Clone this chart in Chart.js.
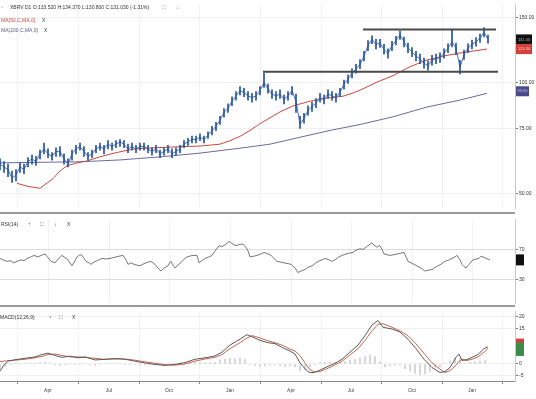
<!DOCTYPE html>
<html>
<head>
<meta charset="utf-8">
<script src="https://cdn.jsdelivr.net/npm/chart.js@4.4.1/dist/chart.umd.min.js"></script>
<style>
  html,body{margin:0;padding:0;background:#fff;}
  body{width:536px;height:399px;position:relative;overflow:hidden;font-family:"Liberation Sans",Arial,sans-serif;}
  canvas{position:absolute;left:0;}
  .lbl{position:absolute;font-size:5px;line-height:6px;color:#333;white-space:nowrap;z-index:2;}
  .sep{position:absolute;left:0;width:515px;height:2px;background:#9a9a9a;z-index:2;}
</style>
</head>
<body>
<canvas id="priceChart" width="536" height="212" style="top:0"></canvas>
<canvas id="rsiChart" width="536" height="92" style="top:215px"></canvas>
<canvas id="macdChart" width="536" height="92" style="top:307px"></canvas>
<div class="sep" style="top:212px"></div>
<div class="sep" style="top:305px"></div>

<div class="lbl" style="left:1px;top:4px;color:#888">▫</div>
<div class="lbl" style="left:10px;top:4px">XBRV D1 O:133.520 H:134.370 L:130.800 C:131.030 (-1.31%)</div>
<div class="lbl" style="left:162px;top:4px;color:#666">⛶</div>
<div class="lbl" style="left:176px;top:4px;color:#666">↓</div>
<div class="lbl" style="left:1px;top:17px;color:#c9483e">MA(50,C,MA,0)</div>
<div class="lbl" style="left:42px;top:17px">X</div>
<div class="lbl" style="left:1px;top:27px;color:#5c5c8c">MA(200,C,MA,0)</div>
<div class="lbl" style="left:44px;top:27px">X</div>

<div class="lbl" style="left:1px;top:221px">RSI(14)</div>
<div class="lbl" style="left:28px;top:221px">↑</div>
<div class="lbl" style="left:40px;top:221px">⛶</div>
<div class="lbl" style="left:54px;top:221px">↓</div>
<div class="lbl" style="left:67px;top:221px">X</div>

<div class="lbl" style="left:0px;top:314px">MACD(12,26,9)</div>
<div class="lbl" style="left:49px;top:314px">↑</div>
<div class="lbl" style="left:59px;top:314px">⛶</div>
<div class="lbl" style="left:72px;top:314px">X</div>

<script>
/* ---- data (x in trading days) ---- */
const X_MAX = 515;
const tickDays = [48, 109, 169, 230, 291, 351, 412, 472];
const tickLabels = ['Apr', 'Jul', 'Oct', 'Jan', 'Apr', 'Jul', 'Oct', 'Jan'];

const priceStep = 4;
const priceClose = [60,59,58,55,56,59,58,61,62,61,64,66,64,63,65,65,62,60,64,66,
  67,65,63,64,66,67,66,68,67,68,69,68,66,67,66,67,67,66,65,66,
  64,65,66,64,65,66,68,69,70,70,71,70,72,74,76,79,83,85,89,92,
  95,94,92,91,92,95,100,96,93,92,93,90,92,95,89,77,80,84,86,88,
  91,90,93,92,91,94,99,102,106,109,112,118,126,131,127,128,123,120,126,130,
  135,129,124,121,118,116,113,111,115,116,117,120,124,129,124,110,119,124,127,129,
  132,137,131];
const priceHigh = [62,61,60,57.5,58,60.5,60,62.5,63.5,63,65.5,68.5,66,64.5,66.5,67,64,62,65.5,67.5,
  68.5,67,64.5,65.5,67.5,68.5,67.5,69.5,68.5,69.5,70,69.5,68,68.5,67.5,68.5,68.5,67.5,66.5,67.5,
  65.5,66.5,67.5,66,66.5,67.5,69.5,70.5,71.5,71.5,72.5,71.5,73.5,76,78,81,85,87.5,91.5,94.5,
  97.5,96.5,94.5,93.5,94.5,97.5,106,99,95.5,94.5,95.5,92.5,94.5,97.5,93,81,82.5,86.5,88.5,90.5,
  93.5,92.5,95.5,94.5,93.5,96.5,101.5,105,109,112,115.5,121.5,130,134,131,131,127,123.5,129.5,133.5,
  138,133,128,124.5,121.5,119.5,116.5,114.5,118.5,119.5,120.5,123.5,127.5,139,128,115,122.5,127.5,130.5,132.5,
  135.5,141,134.5];
const priceLow = [58,57,55.5,53.5,54,57,56.5,59,60,59.5,62,64,62.5,61.5,63,63,60,59,61.5,64,
  65.5,63,61.5,62.5,64.5,65.5,64,66,65.5,66.5,67,66.5,64.5,65.5,64.5,65.5,65.5,64.5,63.5,64.5,
  62.5,63.5,64.5,62.5,63.5,64.5,66.5,67.5,68.5,68.5,69.5,68.5,70.5,72,74,77,80.5,83,86.5,89.5,
  92.5,91.5,89.5,88.5,89.5,92.5,97,93.5,90.5,89.5,90.5,87.5,89.5,92.5,83,75,77.5,81.5,83.5,85.5,
  88.5,87.5,90.5,89.5,88.5,91.5,96,99.5,103,106,109,114.5,122,127.5,123.5,124.5,119.5,116.5,122,126.5,
  131,125,120.5,117.5,114.5,112.5,109.5,108,111.5,112.5,113.5,116.5,120.5,125,119,105.5,115.5,120.5,123.5,125.5,
  128.5,133,128];

const ma50Days = [17,28,40,53,60,67,77,87,98,110,122,133,150,167,185,200,210,220,230,240,
  250,260,270,280,293,310,327,343,352,360,376,393,410,427,444,460,475,487];
const ma50Values = [53.2,52.2,51.6,54.8,57.5,59.4,60.5,61.2,62.6,63.9,65.0,65.9,66.4,66.7,67.0,67.2,67.6,68.0,69.5,71.4,
  74.1,77.3,80.2,83.2,86.4,89.0,90.7,91.8,93.5,95.3,100,104.4,110.4,115.2,118.1,120.3,122,123.3];

const ma200Days = [0,40,80,120,160,200,240,270,300,330,360,393,427,460,487];
const ma200Values = [60.5,60.7,60.9,61.6,62.8,64.3,66.3,68.0,71.0,74.1,76.9,80.7,85.8,89.6,93.5];

const levelValues = [139.4, 107];
const levelFrom = [363, 263];
const levelTo = [496, 498];
const priceTicks = [50, 75, 100, 150];

const rsiDays = [0,3,7,10,14,17,21,24,27,31,34,38,41,45,48,51,55,58,62,65,
  68,70,72,75,77,80,82,84,86,89,91,94,96,100,103,106,110,113,116,119,
  123,126,128,131,134,137,140,144,148,151,155,158,161,164,168,170,171,173,175,178,
  182,185,187,190,192,195,197,199,202,205,209,212,215,219,222,226,229,232,236,240,
  243,246,248,250,254,257,261,264,268,271,274,277,281,284,288,291,295,298,301,305,
  308,312,315,318,322,325,329,332,336,339,342,346,349,353,356,360,363,366,369,372,
  374,377,379,380,382,384,387,390,394,397,401,404,406,408,411,414,418,421,423,425,
  428,432,435,438,442,445,449,452,455,457,460,462,464,466,469,473,476,479,481,483,
  486,490];
const rsiValues = [58,56,54,55,52,54,56,55,58,60,62,60,62,64,59,54,52,57,62,59,
  56,52,48,55,60,63,62,58,54,52,50,53,54,57,58,57,58,59,60,61,
  62,56,50,52,50,49,48,51,53,54,50,45,41,45,48,53,54,49,45,49,
  54,58,60,61,62,62,62,52,55,58,60,62,68,75,74,77,81,78,75,77,
  77,73,68,60,61,62,64,66,64,62,58,54,53,52,51,50,45,39,41,43,
  46,48,51,54,56,58,56,54,57,60,62,64,65,66,69,71,70,73,76,79,
  76,73,75,75,70,64,63,62,63,64,65,66,60,54,52,50,47,45,43,41,
  42,43,46,48,51,54,56,58,60,62,56,50,47,45,50,56,57,58,61,60,
  58,56];
const rsiTicks = [70, 30];

const macdDays = [0,4,8,15,25,35,42,48,55,62,70,78,85,95,103,115,125,135,145,155,
  165,175,185,195,205,215,222,230,240,247,252,260,268,275,283,290,295,300,305,309,
  314,320,328,336,342,350,358,365,372,378,383,392,400,408,416,424,432,440,445,450,
  456,459,462,467,472,478,484,488];
const macdValues = [-3.0,-0.5,1.2,1.8,2.4,3.0,4.0,4.6,3.6,2.8,3.3,2.6,3.0,1.7,1.9,2.3,2.0,1.2,0.4,-0.2,
  -0.6,-0.2,0.6,2.0,2.6,3.4,5.0,8.0,10.5,12.4,11.5,10.0,9.0,8.6,6.8,5.5,4.2,0.5,-2.0,-3.5,
  -3.6,-2.6,-1.0,0.5,2.0,5.0,8.0,12.0,16.5,18.4,15.5,14.8,13.5,10.5,6.5,2.0,-1.5,-3.6,-3.2,-1.5,
  2.8,4.2,1.5,1.8,2.8,4.0,6.5,7.2];
const signalValues = [1.0,1.2,1.4,1.6,2.0,2.6,3.2,4.0,4.2,3.6,3.0,3.0,2.8,2.4,2.0,2.1,2.1,1.6,0.9,0.3,
  -0.3,-0.5,0.0,1.2,2.1,2.8,4.0,6.5,9.0,11.0,12.0,11.0,9.8,9.0,7.8,6.3,5.5,3.5,0.5,-2.0,
  -3.4,-3.2,-1.8,-0.2,1.2,3.8,6.5,10.0,14.0,16.8,17.0,15.5,14.0,12.0,8.5,4.5,0.5,-2.2,-3.6,-2.8,
  -0.5,1.0,2.0,1.5,2.0,3.0,5.0,6.5];
const histStep = 5;
const histValues = [-2.0,-1.0,-0.2,0.2,0.3,0.4,0.4,0.4,0.6,0.7,0.5,-0.4,-0.6,-0.3,0.2,-0.3,-0.2,0.2,-0.4,-0.6,
  -0.2,0.0,0.2,0.2,0.1,-0.1,-0.3,-0.4,-0.5,-0.5,-0.4,-0.4,-0.3,-0.3,0.1,0.3,0.5,0.6,0.8,0.8,
  0.6,0.5,0.6,0.7,1.6,2.0,2.4,2.2,2.5,2.0,-0.4,-0.8,-1.0,-0.8,-0.5,-0.4,-0.8,-1.0,-0.8,-1.2,
  -2.8,-2.5,-1.4,-0.2,0.6,0.8,0.9,0.8,0.8,1.0,1.5,2.0,2.6,3.2,3.8,3.2,1.0,-1.2,-0.8,-0.6,
  -0.5,-2.0,-3.0,-4.0,-4.6,-4.2,-3.2,-1.8,-1.4,0.4,1.3,2.6,2.4,0.2,0.7,0.9,1.2,1.4];
const macdTicks = [20, 15, 0, -5];

/* ---- shared axis helpers ---- */
const FONT = '"Liberation Sans", Arial, sans-serif';
const pts = (xs, ys) => xs.map((x, i) => ({ x, y: ys[i] }));
const last = arr => arr[arr.length - 1];

function xAxis(showLabels){
  return {
    type: 'linear', min: 0, max: X_MAX, offset: false,
    afterBuildTicks: s => { s.ticks = tickDays.map(v => ({ value: v })); },
    afterFit: s => { s.height = showLabels ? 18 : 0; },
    grid: { color: '#f1f1f1', drawTicks: showLabels, tickLength: 3, tickColor: '#888' },
    border: { display: showLabels, color: '#8a8a8a' },
    ticks: { display: showLabels, padding: 4, autoSkip: false, maxRotation: 0, color: '#444',
      font: { size: 5, family: FONT },
      callback: v => tickLabels[tickDays.indexOf(v)] ?? '' }
  };
}
function yAxis(type, min, max, ticks, fmt, gridColor){
  return {
    type, position: 'right', min, max,
    afterBuildTicks: s => { s.ticks = ticks.map(v => ({ value: v })); },
    afterFit: s => { s.width = 21; },
    grid: { color: gridColor, tickLength: 3, tickColor: '#777' },
    border: { color: '#c8c8c8' },
    ticks: { padding: 1, color: '#333', font: { size: 5, family: FONT }, callback: fmt }
  };
}
// coloured last-value boxes on the right axis
function tagPlugin(tags){
  return {
    id: 'tags',
    afterDraw(chart){
      const ctx = chart.ctx, a = chart.chartArea;
      tags.forEach(t => {
        const y = chart.scales.y.getPixelForValue(t.value) + (t.shift || 0);
        ctx.fillStyle = t.bg;
        ctx.fillRect(a.right + 1, y - t.h / 2, t.w, t.h);
        if (t.fg){
          ctx.fillStyle = t.fg; ctx.font = '4px ' + FONT;
          ctx.textAlign = 'center'; ctx.textBaseline = 'middle';
          ctx.fillText(t.value.toFixed(2), a.right + 1 + t.w / 2, y);
        }
      });
    }
  };
}
function baseOptions(padding, scales){
  return {
    responsive: false, animation: false, devicePixelRatio: 1,
    layout: { padding },
    plugins: { legend: { display: false }, tooltip: { enabled: false } },
    elements: { point: { radius: 0 }, line: { tension: 0 } },
    scales
  };
}

/* ---- price panel ---- */
const priceDays = priceClose.map((_, i) => i * priceStep);
new Chart(document.getElementById('priceChart'), {
  type: 'bar',
  data: { datasets: [
    ...levelValues.map((v, i) => ({ type: 'line', data: [{ x: levelFrom[i], y: v }, { x: levelTo[i], y: v }],
      borderColor: '#4a4a4a', borderWidth: 1.8 })),
    { type: 'bar', data: priceDays.map((x, i) => ({ x, y: [priceLow[i], priceHigh[i]] })),
      backgroundColor: '#24529f', barThickness: 1 },
    { type: 'line', data: pts(priceDays, priceClose), borderColor: '#4a76bb', borderWidth: 1 },
    { type: 'line', data: pts(ma50Days, ma50Values), borderColor: '#c9483e', borderWidth: 1 },
    { type: 'line', data: pts(ma200Days, ma200Values), borderColor: '#6a6aa0', borderWidth: 1 }
  ]},
  options: baseOptions({ top: 2, bottom: 2, left: 0, right: 0 }, {
    x: xAxis(false),
    y: yAxis('logarithmic', 45.6, 163.5, priceTicks, v => Number(v).toFixed(2), '#f0f0f0')
  }),
  plugins: [tagPlugin([
    { value: last(priceClose), bg: '#111', fg: '#aaa', w: 16, h: 10 },
    { value: last(ma50Values), bg: '#d2413a', fg: '#f3c9c5', w: 16, h: 10 },
    { value: last(ma200Values), bg: '#4b4b8c', fg: '#c8c8e6', w: 13, h: 10, shift: -2 }
  ])]
});

/* ---- RSI panel ---- */
new Chart(document.getElementById('rsiChart'), {
  type: 'line',
  data: { datasets: [
    { data: pts(rsiDays, rsiValues), borderColor: '#555', borderWidth: 0.8 }
  ]},
  options: baseOptions({ top: 0, bottom: 0, left: 0, right: 0 }, {
    x: xAxis(false),
    y: yAxis('linear', -2, 111, rsiTicks, v => String(v), '#dcdcdc')
  }),
  plugins: [tagPlugin([{ value: last(rsiValues), bg: '#111', w: 8, h: 11 }])]
});

/* ---- MACD panel ---- */
const histDays = histValues.map((_, i) => i * histStep);
new Chart(document.getElementById('macdChart'), {
  type: 'bar',
  data: { datasets: [
    { type: 'line', data: pts(macdDays, macdValues), borderColor: '#5a5a5a', borderWidth: 1 },
    { type: 'line', data: pts(macdDays, signalValues), borderColor: '#c8664e', borderWidth: 1 },
    { type: 'bar', data: pts(histDays, histValues), backgroundColor: '#d4d4d4', barThickness: 1.2 }
  ]},
  options: baseOptions({ top: 0, bottom: 0, left: 0, right: 0 }, {
    x: xAxis(true),
    y: yAxis('linear', -7.2, 22.4, macdTicks, v => String(v), '#f0f0f0')
  }),
  plugins: [tagPlugin([
    { value: last(macdValues), bg: '#3c8a4c', w: 8, h: 14, shift: 2 },
    { value: last(signalValues), bg: '#c8463c', w: 8, h: 4, shift: -8 }
  ])]
});
</script>
</body>
</html>
